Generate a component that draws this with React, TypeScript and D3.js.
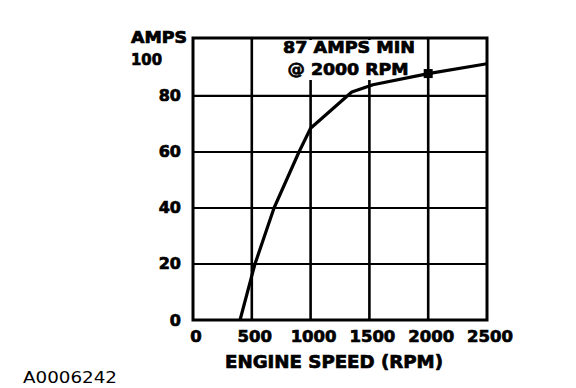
import React from "react";
import * as d3 from "d3";

const rpm = [400, 527, 689, 901, 1000, 1350, 1530, 2000, 2500];
const amps = [0, 20, 40, 60, 68.5, 81.4, 84, 88, 91.5];
const xTicks = [0, 500, 1000, 1500, 2000, 2500];
const yTicks = [0, 20, 40, 60, 80];
const xGrid = [500, 1000, 1500, 2000];
const yGrid = [20, 40, 60, 80];
const markerRpm = 2000;
const markerAmps = 88;
const annotation = ["87 AMPS MIN", "@ 2000 RPM"];
const xTitle = "ENGINE SPEED (RPM)";
const yTitle = "AMPS";
const yTopLabel = "100";
const figId = "A0006242";

const W = 576;
const H = 388;
const FONT = "'DejaVu Sans', Verdana, sans-serif";

export default function App() {
  const x = d3.scaleLinear().domain([0, 2500]).range([193, 487]);
  const y = d3.scaleLinear().domain([0, 100.7]).range([320, 38]);
  const pts = rpm.map((r, i) => [r, amps[i]] as [number, number]);
  const line = d3
    .line<[number, number]>()
    .x((d) => x(d[0]))
    .y((d) => y(d[1]))
    .curve(d3.curveLinear);

  const x0 = x(0), x1 = x(2500), y0 = y(0), y1 = y(100.7);
  const heavy = { fontWeight: "bold" as const, stroke: "#000", strokeWidth: 0.7 };

  return (
    <svg
      width={W}
      height={H}
      viewBox={`0 0 ${W} ${H}`}
      style={{ position: "absolute", left: 0, top: 0, background: "#fff" }}
      fontFamily={FONT}
    >
      <rect x={0} y={0} width={W} height={H} fill="#fff" />
      {yGrid.map((v) => (
        <line key={"h" + v} x1={x0} x2={x1} y1={y(v)} y2={y(v)} stroke="#000" strokeWidth={2.2} />
      ))}
      {xGrid.map((v) => (
        <line key={"v" + v} x1={x(v)} x2={x(v)} y1={y0} y2={y1} stroke="#000" strokeWidth={2.6} />
      ))}
      <rect x={279} y={y1 + 2} width={140} height={40} fill="#fff" />
      <rect x={x0} y={y1} width={x1 - x0} height={y0 - y1} fill="none" stroke="#000" strokeWidth={3} />
      <path d={line(pts) || ""} fill="none" stroke="#000" strokeWidth={3.2} strokeLinejoin="round" />
      <rect x={x(markerRpm) - 4.5} y={y(markerAmps) - 4.5} width={9} height={9} fill="#000" />
      <text x={349} y={53} textAnchor="middle" fontSize={16} {...heavy} textLength={132} lengthAdjust="spacingAndGlyphs">
        {annotation[0]}
      </text>
      <text x={348} y={75} textAnchor="middle" fontSize={16} {...heavy} textLength={121} lengthAdjust="spacingAndGlyphs">
        {annotation[1]}
      </text>
      <text x={131} y={43} fontSize={15} {...heavy} textLength={56} lengthAdjust="spacingAndGlyphs">
        {yTitle}
      </text>
      <text x={131} y={65} fontSize={16} {...heavy} textLength={31} lengthAdjust="spacingAndGlyphs">
        {yTopLabel}
      </text>
      {yTicks.map((v) => (
        <text key={"yt" + v} x={181} y={y(v) + 5.5} textAnchor="end" fontSize={16} {...heavy}>
          {v}
        </text>
      ))}
      {xTicks.map((v) => (
        <text key={"xt" + v} x={x(v) + 3} y={342} textAnchor="middle" fontSize={16.5} {...heavy}>
          {v}
        </text>
      ))}
      <text x={334} y={368} textAnchor="middle" fontSize={17.5} {...heavy} textLength={218} lengthAdjust="spacingAndGlyphs">
        {xTitle}
      </text>
      <text x={23} y={383} fontSize={15} textLength={94} lengthAdjust="spacingAndGlyphs">
        {figId}
      </text>
    </svg>
  );
}
